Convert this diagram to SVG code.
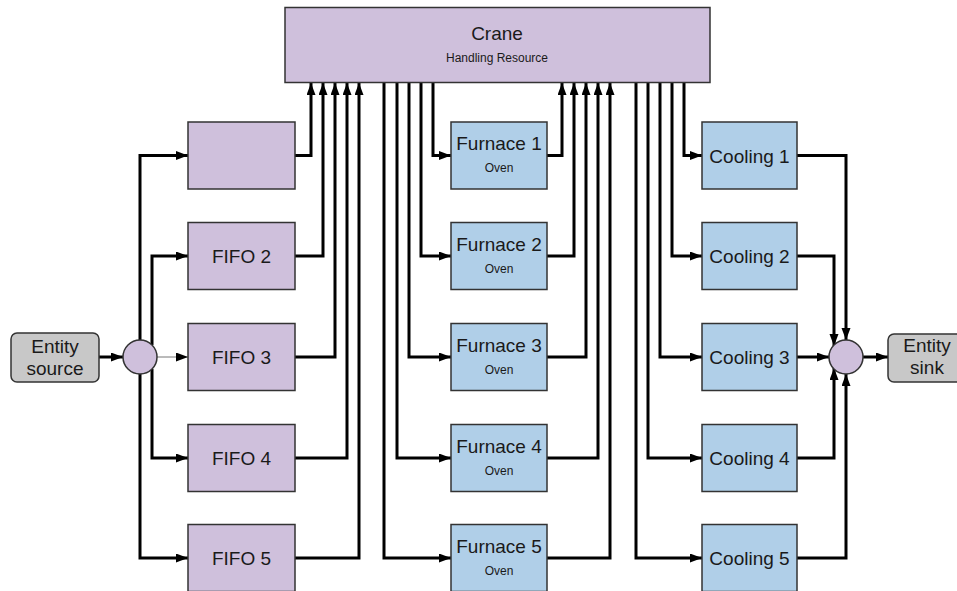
<svg xmlns="http://www.w3.org/2000/svg" width="957" height="591" viewBox="0 0 957 591">
<defs>
<marker id="ah" markerUnits="userSpaceOnUse" markerWidth="13" markerHeight="10" refX="12" refY="4.5" orient="auto">
<path d="M0,0 L12,4.5 L0,9 z" fill="#000"/>
</marker>
<style>
.p{fill:#cfc0dc;stroke:#333;stroke-width:1.5}
.b{fill:#b0cfe8;stroke:#333;stroke-width:1.5}
.g{fill:#c8c8c8;stroke:#333;stroke-width:1.5}
.t{font-family:"Liberation Sans",Arial,sans-serif;font-size:19px;fill:#1a1a1a;text-anchor:middle}
.s{font-family:"Liberation Sans",Arial,sans-serif;font-size:12px;fill:#1a1a1a;text-anchor:middle}
.c path{fill:none;stroke:#000;stroke-width:3;marker-end:url(#ah)}
.c path.thin{stroke:#777;stroke-width:1}
</style>
</defs>
<rect width="957" height="591" fill="#fff"/>
<g class="c" id="connectors">
<path d="M99,357 H123"/>
<path class="thin" d="M157,357 H188"/>
<path d="M140,340 V155.5 H188"/>
<path d="M140,374 V558 H188"/>
<path d="M152,345 V256 H188"/>
<path d="M152,369 V458 H188"/>
<path d="M295,155.5 H311 V83"/>
<path d="M295,256 H323 V83"/>
<path d="M295,357 H335 V83"/>
<path d="M295,458 H347 V83"/>
<path d="M295,558 H359 V83"/>
<path d="M433,83 V155.5 H451"/>
<path d="M421,83 V256 H451"/>
<path d="M409,83 V357 H451"/>
<path d="M397,83 V458 H451"/>
<path d="M384,83 V558 H451"/>
<path d="M547,155.5 H562 V83"/>
<path d="M547,256 H574 V83"/>
<path d="M547,357 H586 V83"/>
<path d="M547,458 H598 V83"/>
<path d="M547,558 H610 V83"/>
<path d="M684,83 V155.5 H702"/>
<path d="M672,83 V256 H702"/>
<path d="M660,83 V357 H702"/>
<path d="M648,83 V458 H702"/>
<path d="M636,83 V558 H702"/>
<path d="M797,155.5 H846 V340"/>
<path d="M797,256 H834 V346"/>
<path d="M797,357 H829"/>
<path d="M797,458 H834 V368"/>
<path d="M797,558 H846 V374"/>
<path d="M863,357 H888"/>
</g>
<g id="crane"><rect class="p" x="285" y="7.5" width="425" height="75"/><text class="t" x="497" y="40">Crane</text><text class="s" x="497" y="62">Handling Resource</text></g>
<g id="source"><rect class="g" x="11" y="333" width="88" height="49" rx="6"/><text class="t" x="55" y="353">Entity</text><text class="t" x="55" y="375">source</text></g>
<g id="split"><circle class="p" cx="140" cy="357" r="17"/></g>
<g id="fifo1"><rect class="p" x="188" y="122" width="107" height="67"/></g>
<g id="fifo2"><rect class="p" x="188" y="222.5" width="107" height="67"/><text class="t" x="241.5" y="263">FIFO 2</text></g>
<g id="fifo3"><rect class="p" x="188" y="323.5" width="107" height="67"/><text class="t" x="241.5" y="364">FIFO 3</text></g>
<g id="fifo4"><rect class="p" x="188" y="424.5" width="107" height="67"/><text class="t" x="241.5" y="465">FIFO 4</text></g>
<g id="fifo5"><rect class="p" x="188" y="524.5" width="107" height="67"/><text class="t" x="241.5" y="565">FIFO 5</text></g>
<g id="furnace1"><rect class="b" x="451" y="122" width="96" height="67"/><text class="t" x="499" y="150">Furnace 1</text><text class="s" x="499" y="172">Oven</text></g>
<g id="furnace2"><rect class="b" x="451" y="222.5" width="96" height="67"/><text class="t" x="499" y="250.5">Furnace 2</text><text class="s" x="499" y="272.5">Oven</text></g>
<g id="furnace3"><rect class="b" x="451" y="323.5" width="96" height="67"/><text class="t" x="499" y="351.5">Furnace 3</text><text class="s" x="499" y="373.5">Oven</text></g>
<g id="furnace4"><rect class="b" x="451" y="424.5" width="96" height="67"/><text class="t" x="499" y="452.5">Furnace 4</text><text class="s" x="499" y="474.5">Oven</text></g>
<g id="furnace5"><rect class="b" x="451" y="524.5" width="96" height="67"/><text class="t" x="499" y="552.5">Furnace 5</text><text class="s" x="499" y="574.5">Oven</text></g>
<g id="cooling1"><rect class="b" x="702" y="122" width="95" height="67"/><text class="t" x="749.5" y="162.5">Cooling 1</text></g>
<g id="cooling2"><rect class="b" x="702" y="222.5" width="95" height="67"/><text class="t" x="749.5" y="263">Cooling 2</text></g>
<g id="cooling3"><rect class="b" x="702" y="323.5" width="95" height="67"/><text class="t" x="749.5" y="364">Cooling 3</text></g>
<g id="cooling4"><rect class="b" x="702" y="424.5" width="95" height="67"/><text class="t" x="749.5" y="465">Cooling 4</text></g>
<g id="cooling5"><rect class="b" x="702" y="524.5" width="95" height="67"/><text class="t" x="749.5" y="565">Cooling 5</text></g>
<g id="merge"><circle class="p" cx="846" cy="357" r="17"/></g>
<g id="sink"><rect class="g" x="888" y="334" width="90" height="48" rx="6"/><text class="t" x="927" y="352">Entity</text><text class="t" x="927" y="374">sink</text></g>
</svg>
